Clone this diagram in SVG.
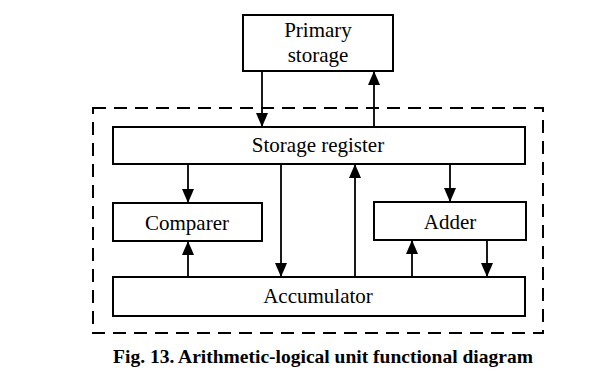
<svg xmlns="http://www.w3.org/2000/svg" width="594" height="384" viewBox="0 0 594 384">
<style>
.box{fill:#fff;stroke:#000;stroke-width:2}
.lbl{font-family:"Liberation Serif","Times New Roman",serif;font-size:21px;fill:#000;text-anchor:middle}
.cap{font-family:"Liberation Serif","Times New Roman",serif;font-size:19.5px;font-weight:bold;fill:#000;text-anchor:middle}
.ln{stroke:#000;stroke-width:1.8;fill:none}
</style>
<defs>
<marker id="ah" viewBox="0 0 14 12" refX="14" refY="6" markerWidth="14" markerHeight="12" markerUnits="userSpaceOnUse" orient="auto">
<path d="M0,0 L14,6 L0,12 Z" fill="#000"/>
</marker>
</defs>
<rect width="594" height="384" fill="#fff"/>
<rect id="alu-boundary" x="93" y="108" width="450" height="225" fill="none" stroke="#000" stroke-width="2" stroke-dasharray="13,8"/>
<g id="primary-storage">
<rect class="box" x="243" y="15" width="150" height="56"/>
<text class="lbl" x="318" y="37">Primary</text>
<text class="lbl" x="318" y="62">storage</text>
</g>
<g id="storage-register">
<rect class="box" x="113" y="127" width="412" height="37"/>
<text class="lbl" x="318" y="152">Storage register</text>
</g>
<g id="comparer">
<rect class="box" x="113" y="203" width="149" height="38"/>
<text class="lbl" x="187" y="230">Comparer</text>
</g>
<g id="adder">
<rect class="box" x="374" y="202" width="152" height="38"/>
<text class="lbl" x="450" y="229">Adder</text>
</g>
<g id="accumulator">
<rect class="box" x="113" y="277" width="412" height="39"/>
<text class="lbl" x="318" y="303">Accumulator</text>
</g>
<g id="connectors">
<line class="ln" x1="262" y1="71" x2="262" y2="127" marker-end="url(#ah)"/>
<line class="ln" x1="374" y1="127" x2="374" y2="71" marker-end="url(#ah)"/>
<line class="ln" x1="188" y1="164" x2="188" y2="203" marker-end="url(#ah)"/>
<line class="ln" x1="281" y1="164" x2="281" y2="277" marker-end="url(#ah)"/>
<line class="ln" x1="355" y1="277" x2="355" y2="164" marker-end="url(#ah)"/>
<line class="ln" x1="450" y1="164" x2="450" y2="202" marker-end="url(#ah)"/>
<line class="ln" x1="188" y1="277" x2="188" y2="241" marker-end="url(#ah)"/>
<line class="ln" x1="412" y1="277" x2="412" y2="240" marker-end="url(#ah)"/>
<line class="ln" x1="487" y1="240" x2="487" y2="277" marker-end="url(#ah)"/>
</g>
<text class="cap" x="323" y="363">Fig. 13. Arithmetic-logical unit functional diagram</text>
</svg>
